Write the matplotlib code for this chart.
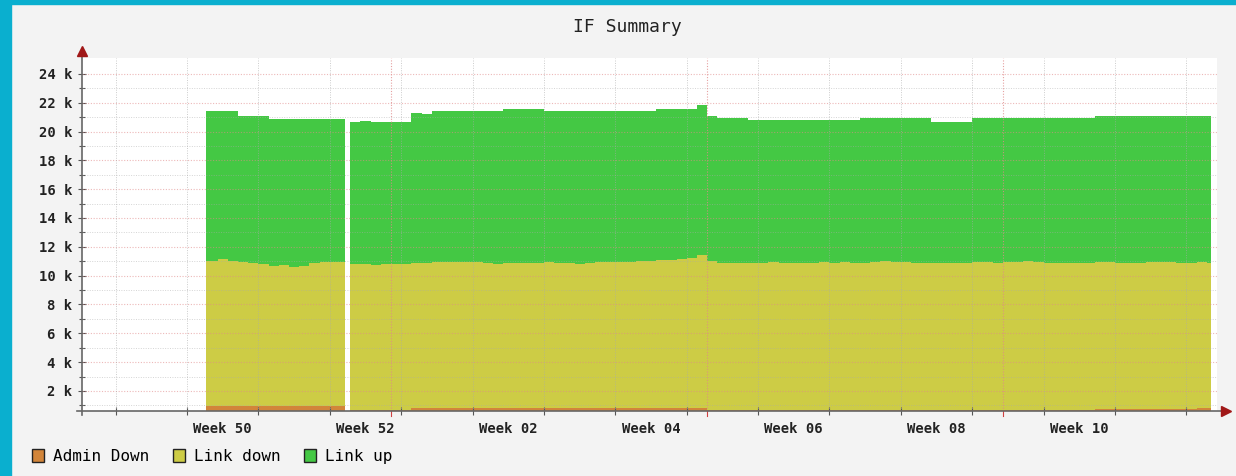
import matplotlib.pyplot as plt
from matplotlib.patches import Rectangle, Patch

# x = days, 0 is the first day of week 50; every sample holds until the next one
days = [1.9] + list(range(3, 16)) + [16.0] + list(range(17, 101))
seg_split = 14            # second piece of data starts here
seg_ends = [15.5, 100.4]  # end of each piece (gap in between)

admin_down = [980, 980, 980, 980, 980, 980, 980, 980, 980, 980, 980, 980, 980, 980,
              680, 680, 680, 680, 680, 680,
              830, 830, 830, 830, 830, 830, 830, 830, 830, 830, 830, 830, 830, 830, 830,
              830, 830, 830, 830, 830, 830, 830, 830, 830, 830, 830, 830, 830, 830,
              650, 650, 650, 650, 650, 650, 650, 650, 650, 650, 650, 650, 650, 650, 650,
              650, 650, 650, 650, 650, 650, 650, 650, 650, 650, 650, 650, 650, 650, 650,
              650, 650, 650, 650, 650, 650, 650, 650,
              730, 730, 730, 730, 730, 730, 730, 730, 730, 730,
              850, 850]
link_down = [10070, 10170, 10070, 9970, 9920, 9820, 9670, 9740, 9620, 9700, 9870, 9970, 9970, 9970,
             10100, 10100, 10080, 10100, 10120, 10140,
             10050, 10070, 10090, 10110, 10120, 10090, 10120, 10050, 9990, 10070, 10020, 10070,
             10050, 10090, 10020, 10070, 10000, 10070, 10120, 10090, 10150, 10120, 10170, 10220,
             10270, 10290, 10320, 10420, 10590,
             10400, 10250, 10200, 10250, 10230, 10250, 10270, 10230, 10250, 10220, 10250, 10300,
             10250, 10270, 10230, 10250, 10300, 10350, 10330, 10300, 10250, 10230, 10250, 10200,
             10250, 10230, 10300, 10270, 10250, 10300, 10330, 10350, 10300, 10250, 10230, 10200,
             10230, 10250,
             10190, 10220, 10170, 10150, 10170, 10190, 10220, 10220, 10170, 10150,
             10070, 10050]
link_up = [10350, 10250, 10350, 10100, 10150, 10250, 10250, 10180, 10300, 10220, 10050, 9950, 9950, 9950,
           9850, 9970, 9900, 9880, 9860, 9840,
           10420, 10300, 10480, 10460, 10450, 10480, 10450, 10520, 10580, 10660, 10710, 10660,
           10680, 10520, 10590, 10540, 10610, 10540, 10490, 10520, 10460, 10490, 10440, 10390,
           10460, 10440, 10410, 10310, 10440,
           10050, 10040, 10090, 10040, 9940, 9920, 9900, 9940, 9920, 9950, 9920, 9870,
           9920, 9900, 9940, 10040, 9990, 9940, 9960, 9990, 10040, 10060, 9730, 9780,
           9730, 9750, 9990, 10020, 10040, 9990, 9960, 9940, 9990, 10040, 10060, 10090,
           10060, 10040,
           10130, 10100, 10150, 10170, 10150, 10130, 10100, 10100, 10150, 10170,
           10130, 10150]

series_names = ["Admin Down", "Link down", "Link up"]
series_colors = ["#D2853A", "#CDCC45", "#44C844"]

week_grid = list(range(-7, 99, 7))
week_label_pos = [3.5, 17.5, 31.5, 45.5, 59.5, 73.5, 87.5]
week_labels = ["Week 50", "Week 52", "Week 02", "Week 04", "Week 06", "Week 08", "Week 10"]
month_lines = [20, 51, 80]

mono = "DejaVu Sans Mono"

fig = plt.figure(figsize=(12.36, 4.76), dpi=100, facecolor="#F3F3F3")
ax = fig.add_axes([82 / 1236, 1 - 410.7 / 476, 1135 / 1236, 352.7 / 476])
ax.set_facecolor("white")

# stacked areas, one piece per continuous run of data
for a, b, end in [(0, seg_split, seg_ends[0]), (seg_split, len(days), seg_ends[1])]:
    x = days[a:b] + [end]
    ys = [s[a:b] + s[b - 1:b] for s in (admin_down, link_down, link_up)]
    ax.stackplot(x, *ys, colors=series_colors, step="post", linewidth=0, zorder=1)

ax.set_xlim(-10.3, 101.0)
ax.set_ylim(630, 25100)

# grid on top of the data, like rrdtool
for y in range(2000, 25000, 2000):
    ax.axhline(y, color="#E08A8A", lw=0.8, ls=(0, (1, 1.5)), alpha=0.6, zorder=2)
for y in range(1000, 25000, 2000):
    ax.axhline(y, color="#AAAAAA", lw=0.7, ls=(0, (1, 1.5)), alpha=0.5, zorder=2)
for d in week_grid:
    ax.axvline(d, color="#AAAAAA", lw=0.7, ls=(0, (1, 1.5)), alpha=0.6, zorder=2)
for d in month_lines:
    ax.axvline(d, color="#E08A8A", lw=0.8, ls=(0, (1, 1.5)), alpha=0.8, zorder=2)
    ax.plot([d, d], [-0.015, 0], transform=ax.get_xaxis_transform(),
            color="#D04040", lw=0.8, clip_on=False, zorder=3)

for s in ax.spines.values():
    s.set_visible(False)

ax.set_yticks(range(2000, 25000, 2000))
ax.set_yticklabels([f"{v // 1000} k" for v in range(2000, 25000, 2000)],
                   fontfamily=mono, fontsize=10, fontweight="bold", color="#222222")
ax.set_yticks(range(1000, 25000, 2000), minor=True)
ax.tick_params(axis="y", which="major", direction="inout", length=6, width=0.8,
               color="#555555", pad=4)
ax.tick_params(axis="y", which="minor", direction="inout", length=4, width=0.8,
               color="#555555")

ax.set_xticks(week_grid)
ax.set_xticklabels([])
ax.set_xticks(week_label_pos, minor=True)
ax.set_xticklabels(week_labels, minor=True, fontfamily=mono, fontsize=10,
                   fontweight="bold", color="#222222")
ax.tick_params(axis="x", which="major", direction="inout", length=6, width=0.8,
               color="#555555")
ax.tick_params(axis="x", which="minor", length=0, pad=8)

# axis lines with arrow heads
ax.plot([0, 0], [-0.012, 1.012], transform=ax.transAxes, color="#666666",
        lw=1.2, clip_on=False, zorder=5)
ax.plot([-0.004, 1.006], [0, 0], transform=ax.transAxes, color="#666666",
        lw=1.2, clip_on=False, zorder=5)
ax.plot(0, 1.02, marker="^", ms=7, color="#A01818", transform=ax.transAxes,
        clip_on=False, zorder=6)
ax.plot(1.008, 0, marker=">", ms=7, color="#A01818", transform=ax.transAxes,
        clip_on=False, zorder=6)

fig.text(627 / 1236, 1 - 27 / 476, "IF Summary", ha="center", va="center",
         fontfamily=mono, fontsize=13, color="#222222")

handles = [Patch(facecolor=c, edgecolor="#222222", lw=1) for c in series_colors]
fig.legend(handles, series_names, loc="lower left",
           bbox_to_anchor=(32 / 1236, 12 / 476), ncol=3, frameon=False,
           prop={"family": mono, "size": 11.5}, handlelength=0.75,
           handleheight=0.95, handletextpad=0.55, columnspacing=1.5,
           borderpad=0, borderaxespad=0)

# cyan page frame around the graph
fig.add_artist(Rectangle((0, 0), 11 / 1236, 1, transform=fig.transFigure,
                         color="#0AAFCF", zorder=0))
fig.add_artist(Rectangle((0, 1 - 4 / 476), 1, 4 / 476, transform=fig.transFigure,
                         color="#0AAFCF", zorder=0))

fig.savefig("out.png", dpi=100, facecolor=fig.get_facecolor())
